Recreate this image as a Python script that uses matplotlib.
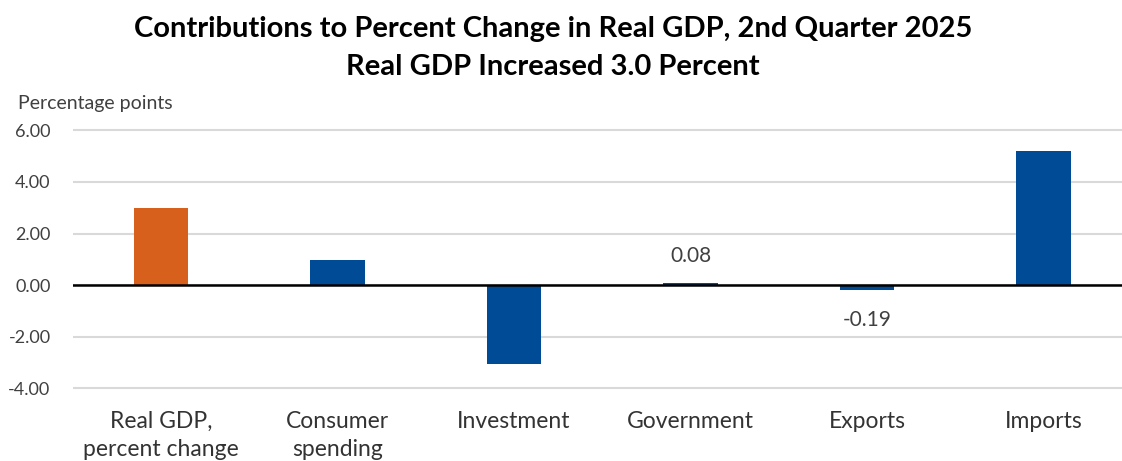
import matplotlib
matplotlib.use("Agg")
import matplotlib.pyplot as plt

categories = ["Real GDP,\npercent change", "Consumer\nspending", "Investment", "Government", "Exports", "Imports"]
values = [3.00, 0.98, -3.07, 0.08, -0.19, 5.18]
labeled = {3: "0.08", 4: "-0.19"}
yticks = [-4, -2, 0, 2, 4, 6]

plt.rcParams['font.family'] = ['Lato', 'DejaVu Sans']

W, H = 1122, 461
fig = plt.figure(figsize=(W / 100, H / 100), dpi=100)
left_px, right_px = 72.75, 1131.75
ax = fig.add_axes([left_px / W, 1 - 400 / H, (right_px - left_px) / W, (400 - 120) / H])

colors = ["#D6601C"] + ["#004B96"] * 5
x = list(range(len(categories)))
ax.bar(x, values, width=0.31, color=colors, zorder=3)

ax.set_ylim(-4.45, 6.4)
ax.set_xlim(-0.5, len(categories) - 0.5)
ax.set_yticks(yticks)
ax.set_yticklabels([f"{v:.2f}" for v in yticks], fontsize=13, color="#404040")
ax.set_xticks(x)
ax.set_xticklabels(categories, fontsize=16.5, color="#333333", linespacing=1.4, va="top")
ax.tick_params(axis="both", length=0)
ax.tick_params(axis="x", pad=8)
ax.tick_params(axis="y", pad=16)
for s in ax.spines.values():
    s.set_visible(False)
ax.grid(axis="y", color="#D9D9D9", linewidth=1.5, zorder=0)
ax.axhline(0, color="black", linewidth=1.8, zorder=4)

for i, txt in labeled.items():
    v = values[i]
    if v >= 0:
        ax.annotate(txt, (i, v), xytext=(0, 12), textcoords="offset points", ha="center", va="bottom", fontsize=15, color="#404040")
    else:
        ax.annotate(txt, (i, v), xytext=(0, -14), textcoords="offset points", ha="center", va="top", fontsize=15, color="#404040")

fig.text(553 / W, 1 - 29 / H, "Contributions to Percent Change in Real GDP, 2nd Quarter 2025", ha="center", va="center", fontsize=21, fontweight="bold", color="black")
fig.text(553 / W, 1 - 67 / H, "Real GDP Increased 3.0 Percent", ha="center", va="center", fontsize=21, fontweight="bold", color="black")
fig.text(18 / W, 1 - 104 / H, "Percentage points", ha="left", va="center", fontsize=14, color="#404040")

fig.savefig("out.png", dpi=100)
